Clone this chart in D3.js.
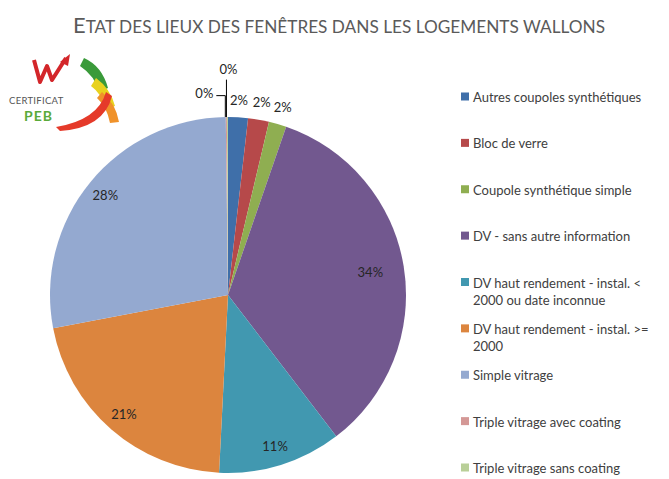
<!DOCTYPE html>
<html lang="fr">
<head>
    <meta charset="UTF-8">
    <title>Etat des lieux des fenêtres</title>
    <script src="https://cdn.jsdelivr.net/npm/d3@7/dist/d3.min.js"></script>
    <style>
        body { margin: 0; background: #fff; }
        svg { font-family: Lato, "Open Sans", sans-serif; }
    </style>
</head>
<body>
<script>
    // données (en %)
    const categories = [
        'Autres coupoles synthétiques',
        'Bloc de verre',
        'Coupole synthétique simple',
        'DV - sans autre information',
        'DV haut rendement - instal. < 2000 ou date  inconnue',
        'DV haut rendement - instal. >= 2000',
        'Simple vitrage',
        'Triple vitrage avec coating',
        'Triple vitrage sans coating'
    ];
    const values = [1.8, 1.9, 1.6, 34.3, 11.2, 21.2, 27.8, 0.1, 0.1];
    const colors = ['#3f6fa9', '#b6494a', '#8fae51', '#72588f', '#4198b0',
        '#dc853e', '#94a9d0', '#d49896', '#b9cf98'];
    const title = 'Etat des lieux des fenêtres dans les logements wallons';

    const width = 669, height = 479;
    const cx = 228, cy = 295, r = 178;

    const svg = d3.select('body').append('svg')
        .attr('width', width)
        .attr('height', height);

    // titre en petites capitales
    const t = svg.append('text')
        .attr('x', 73).attr('y', 33)
        .attr('fill', '#5a5a5a')
        .attr('textLength', 532)
        .attr('lengthAdjust', 'spacingAndGlyphs');
    t.append('tspan').attr('font-size', 21).text(title[0].toUpperCase());
    t.append('tspan').attr('font-size', 16.5).text(title.slice(1).toUpperCase());

    // logo (approximation)
    const logo = svg.append('g');
    logo.append('path').attr('d', 'M84,58 Q102,66 108,88 L99,92 Q95,76 80,66 Z').attr('fill', '#3a9a3a');
    logo.append('path').attr('d', 'M96,78 Q110,88 115,106 L106,109 Q102,94 91,86 Z').attr('fill', '#e8d21e');
    logo.append('path').attr('d', 'M102,92 Q116,104 119,122 L110,123 Q107,107 97,98 Z').attr('fill', '#f0922a');
    logo.append('path').attr('d', 'M56,127 Q98,120 106,92 L112,96 Q104,128 60,131 Z').attr('fill', '#e53a2a');
    logo.append('path').attr('d', 'M34,60 L40,82 L47,66 L52,80 L66,58').attr('fill', 'none')
        .attr('stroke', '#d3262a').attr('stroke-width', 4).attr('stroke-linejoin', 'round');
    logo.append('path').attr('d', 'M60,62 L70,54 L68,66 Z').attr('fill', '#d3262a');
    logo.append('text').attr('x', 9).attr('y', 104).attr('font-size', 9.5)
        .attr('fill', '#555').attr('letter-spacing', 0.3).text('CERTIFICAT');
    logo.append('text').attr('x', 24).attr('y', 121).attr('font-size', 14).attr('font-weight', 'bold')
        .attr('fill', '#5aaa3a').attr('letter-spacing', 1).text('PEB');

    // camembert
    const pie = d3.pie().sort(null).value(d => d);
    const arcs = pie(values);
    const arc = d3.arc().innerRadius(0).outerRadius(r);
    const g = svg.append('g').attr('transform', `translate(${cx},${cy})`);

    g.selectAll('path')
        .data(arcs)
        .enter()
        .append('path')
        .attr('d', arc)
        .attr('fill', (d, i) => colors[i]);

    const total = d3.sum(values);
    const pct = v => Math.round(v / total * 100) + '%';

    const labels = g.append('g')
        .attr('font-size', 13)
        .attr('fill', '#262626')
        .attr('text-anchor', 'middle')
        .attr('dominant-baseline', 'central');

    let zero = 0;
    arcs.forEach((d, i) => {
        const share = d.value / total;
        const a = (d.startAngle + d.endAngle) / 2;
        if (share >= 0.05) {
            const k = share > 0.3 ? 0.81 : 0.89;
            labels.append('text')
                .attr('x', Math.sin(a) * r * k)
                .attr('y', -Math.cos(a) * r * k)
                .text(pct(d.value));
        } else if (share >= 0.005) {
            labels.append('text')
                .attr('x', Math.sin(a) * r * 1.1)
                .attr('y', -Math.cos(a) * r * 1.1)
                .text(pct(d.value));
        } else {
            // étiquettes 0% avec ligne de rappel
            const x0 = Math.sin(a) * r - 1, y0 = -Math.cos(a) * r;
            if (zero === 0) {
                const yl = -r * 1.12;
                g.append('path').attr('d', `M${x0},${y0}V${yl}H${x0 - 9}`)
                    .attr('fill', 'none').attr('stroke', '#000').attr('stroke-width', 1);
                labels.append('text').attr('x', x0 - 12).attr('y', yl - 3)
                    .attr('text-anchor', 'end').text(pct(d.value));
            } else {
                const yl = -r * 1.21;
                g.append('path').attr('d', `M${x0},${y0}V${yl}`)
                    .attr('fill', 'none').attr('stroke', '#000').attr('stroke-width', 1);
                labels.append('text').attr('x', x0 + 2).attr('y', yl - 11).text(pct(d.value));
            }
            zero++;
        }
    });

    // légende
    const legendY = d3.scalePoint().domain(categories).range([97, 468]);
    const legend = svg.append('g').attr('font-size', 13).attr('fill', '#404040');
    categories.forEach((c, i) => {
        const y = legendY(c);
        legend.append('rect')
            .attr('x', 461).attr('y', y - 4.5)
            .attr('width', 8).attr('height', 8)
            .attr('fill', colors[i]);
        const txt = legend.append('text')
            .attr('x', 473).attr('y', y)
            .attr('dominant-baseline', 'central');
        // retour à la ligne si trop long
        const words = c.split(' ');
        let line = [];
        let ts = txt.append('tspan').attr('x', 473).attr('dy', 0);
        words.forEach(w => {
            line.push(w);
            ts.text(line.join(' '));
            if (ts.node().getComputedTextLength() > 188 && line.length > 1) {
                line.pop();
                ts.text(line.join(' '));
                line = [w];
                ts = txt.append('tspan').attr('x', 473).attr('dy', 17).text(w);
            }
        });
    });
</script>
</body>
</html>
